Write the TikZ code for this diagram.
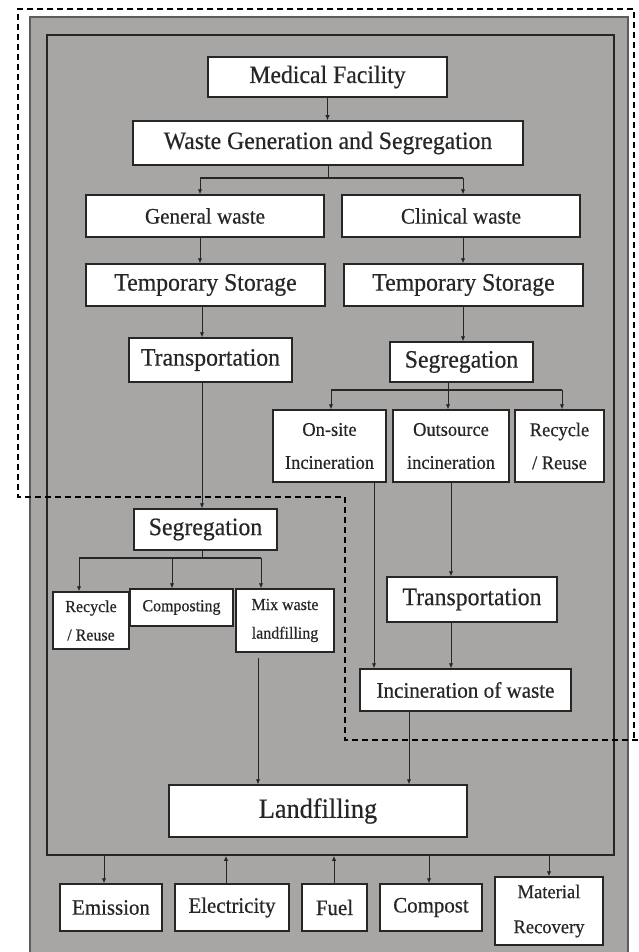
\documentclass[tikz,border=0pt]{standalone}
\usepackage{fontspec}
\setmainfont[FakeStretch=0.95,FakeBold=0.5]{Liberation Serif}
\usetikzlibrary{arrows.meta}
\definecolor{bg}{RGB}{168,165,165}
\definecolor{ink}{RGB}{38,38,38}
\begin{document}
\begin{tikzpicture}[x=1pt,y=-1pt,
  box/.style={draw=ink, line width=1.5pt, fill=white, inner sep=0pt, align=center, text=ink},
  arr/.style={draw=ink, line width=0.9pt, -{Latex[length=5pt,width=4.5pt]}},
  ln/.style={draw=ink, line width=0.9pt},
  br/.style={draw=ink, line width=1.6pt},
  fbig/.style={font=\fontsize{25}{28}\selectfont},
  fmed/.style={font=\fontsize{22.2}{26}\selectfont},
  fsmall/.style={font=\fontsize{19.4}{33}\selectfont},
  fsm/.style={font=\fontsize{16.8}{28.5}\selectfont},
  fland/.style={font=\fontsize{27.7}{30}\selectfont},
  fbot/.style={font=\fontsize{22}{26}\selectfont},
  fmat/.style={font=\fontsize{19.5}{35}\selectfont},
  dashline/.style={draw=black, line width=1.3pt, dash pattern=on 6pt off 4pt}
]
\useasboundingbox (0,0) rectangle (638,952);
\fill[white] (0,0) rectangle (638,952);
\draw[fill=bg, draw=ink!75, line width=1.2pt] (30,17) rectangle (628,965);
\node[draw=ink, line width=1.8pt, minimum width=567pt, minimum height=820pt, inner sep=0pt] (frame) at (330.5,445) {};

% boxes
\node[box,fbig,minimum width=239pt,minimum height=40pt] (mf) at (327.5,77) {Medical Facility};
\node[box,fbig,minimum width=390pt,minimum height=44pt] (wgs) at (328,143) {Waste Generation and Segregation};
\node[box,fmed,minimum width=238pt,minimum height=42pt] (gw) at (205,216) {General waste};
\node[box,fmed,minimum width=238pt,minimum height=42pt] (cw) at (461,216) {Clinical waste};
\node[box,fbig,minimum width=239pt,minimum height=42pt] (tsL) at (205.5,285) {Temporary Storage};
\node[box,fbig,minimum width=239pt,minimum height=42pt] (tsR) at (463.5,285) {Temporary Storage};
\node[box,fbig,minimum width=163pt,minimum height=44pt] (trL) at (210.5,360) {Transportation};
\node[box,fbig,minimum width=143pt,minimum height=40pt] (segR) at (461.5,362) {Segregation};
\node[box,fsmall,minimum width=113pt,minimum height=72pt] (onsite) at (329.5,446) {On-site\\Incineration};
\node[box,fsmall,minimum width=116pt,minimum height=72pt] (outs) at (451,446) {Outsource\\incineration};
\node[box,fsmall,minimum width=89pt,minimum height=72pt] (recR) at (559.5,446) {Recycle\\/ Reuse};
\node[box,fbig,minimum width=143pt,minimum height=41pt] (segL) at (205.5,529.5) {Segregation};
\node[box,fsm,minimum width=76pt,minimum height=57pt] (recL) at (91,620.5) {Recycle\\/ Reuse};
\node[box,fsm,minimum width=103pt,minimum height=37pt] (comp) at (181.5,607.5) {Composting};
\node[box,fsm,minimum width=98pt,minimum height=63pt] (mix) at (285,620.5) {Mix waste\\landfilling};
\node[box,fbig,minimum width=170pt,minimum height=45pt] (trR) at (472,599.5) {Transportation};
\node[box,fmed,minimum width=211pt,minimum height=42pt] (incin) at (465.5,690) {Incineration of waste};
\node[box,fland,minimum width=298pt,minimum height=52pt] (land) at (318,811) {Landfilling};
\node[box,fbot,minimum width=102pt,minimum height=47pt] (emis) at (111,907.5) {Emission};
\node[box,fbot,minimum width=114pt,minimum height=47pt] (elec) at (232,907.5) {Electricity};
\node[box,fbot,minimum width=65pt,minimum height=47pt] (fuel) at (334.5,907.5) {Fuel};
\node[box,fbot,minimum width=102pt,minimum height=47pt] (compost) at (431,907.5) {Compost};
\node[box,fmat,minimum width=108pt,minimum height=68pt] (matrec) at (549,911) {Material\\Recovery};

% coordinates
\coordinate (b1) at (328,178);
\coordinate (b1L) at (200,178);
\coordinate (b1R) at (463,178);
\coordinate (xL) at (202,0);
\coordinate (b2) at (448,390);
\coordinate (b2L) at (331,390);
\coordinate (b2R) at (562,390);
\coordinate (b3) at (202,558);
\coordinate (b3L) at (79,558);
\coordinate (b3M) at (172,558);
\coordinate (b3R) at (261,558);
\coordinate (xO) at (374,0);
\coordinate (xS) at (451,0);
\coordinate (xI) at (409,0);
\coordinate (xM) at (258,0);
\coordinate (xE) at (104,0);
\coordinate (xEl) at (226,0);
\coordinate (xF) at (334,0);
\coordinate (xC) at (429,0);
\coordinate (xR) at (549,0);

% connectors
\draw[arr] (mf.south) -- (mf.south |- wgs.north);
\draw[ln] (wgs.south) -- (b1);
\draw[br] (b1L) -- (b1R);
\draw[arr] (b1L) -- (b1L |- gw.north);
\draw[arr] (b1R) -- (b1R |- cw.north);
\draw[arr] (b1L |- gw.south) -- (b1L |- tsL.north);
\draw[arr] (b1R |- cw.south) -- (b1R |- tsR.north);
\draw[arr] (xL |- tsL.south) -- (xL |- trL.north);
\draw[arr] (b1R |- tsR.south) -- (b1R |- segR.north);

\draw[ln] (b2 |- segR.south) -- (b2);
\draw[br] (b2L) -- (b2R);
\draw[arr] (b2L) -- (b2L |- onsite.north);
\draw[arr] (b2) -- (b2 |- outs.north);
\draw[arr] (b2R) -- (b2R |- recR.north);

\draw[arr] (xL |- trL.south) -- (xL |- segL.north);
\draw[ln] (xL |- segL.south) -- (b3);
\draw[br] (b3L) -- (b3R);
\draw[arr] (b3L) -- (b3L |- recL.north);
\draw[arr] (b3M) -- (b3M |- comp.north);
\draw[arr] (b3R) -- (b3R |- mix.north);

\draw[arr] (xO |- onsite.south) -- (xO |- incin.north);
\draw[arr] (xS |- outs.south) -- (xS |- trR.north);
\draw[arr] (xS |- trR.south) -- (xS |- incin.north);
\draw[arr] (xI |- incin.south) -- (xI |- land.north);
\draw[arr, shorten <=5pt] (xM |- mix.south) -- (xM |- land.north);

\draw[arr] (xE |- frame.south) -- (xE |- emis.north);
\draw[arr] (xEl |- elec.north) -- (xEl |- frame.south);
\draw[arr] (xF |- fuel.north) -- (xF |- frame.south);
\draw[arr] (xC |- frame.south) -- (xC |- compost.north);
\draw[arr] (xR |- frame.south) -- (xR |- matrec.north);

% dashed outline
\draw[dashline] (638,740) -- (345,740) -- (345,497) -- (18,497) -- (18,9) -- (634,9) -- (634,740);
\end{tikzpicture}
\end{document}
